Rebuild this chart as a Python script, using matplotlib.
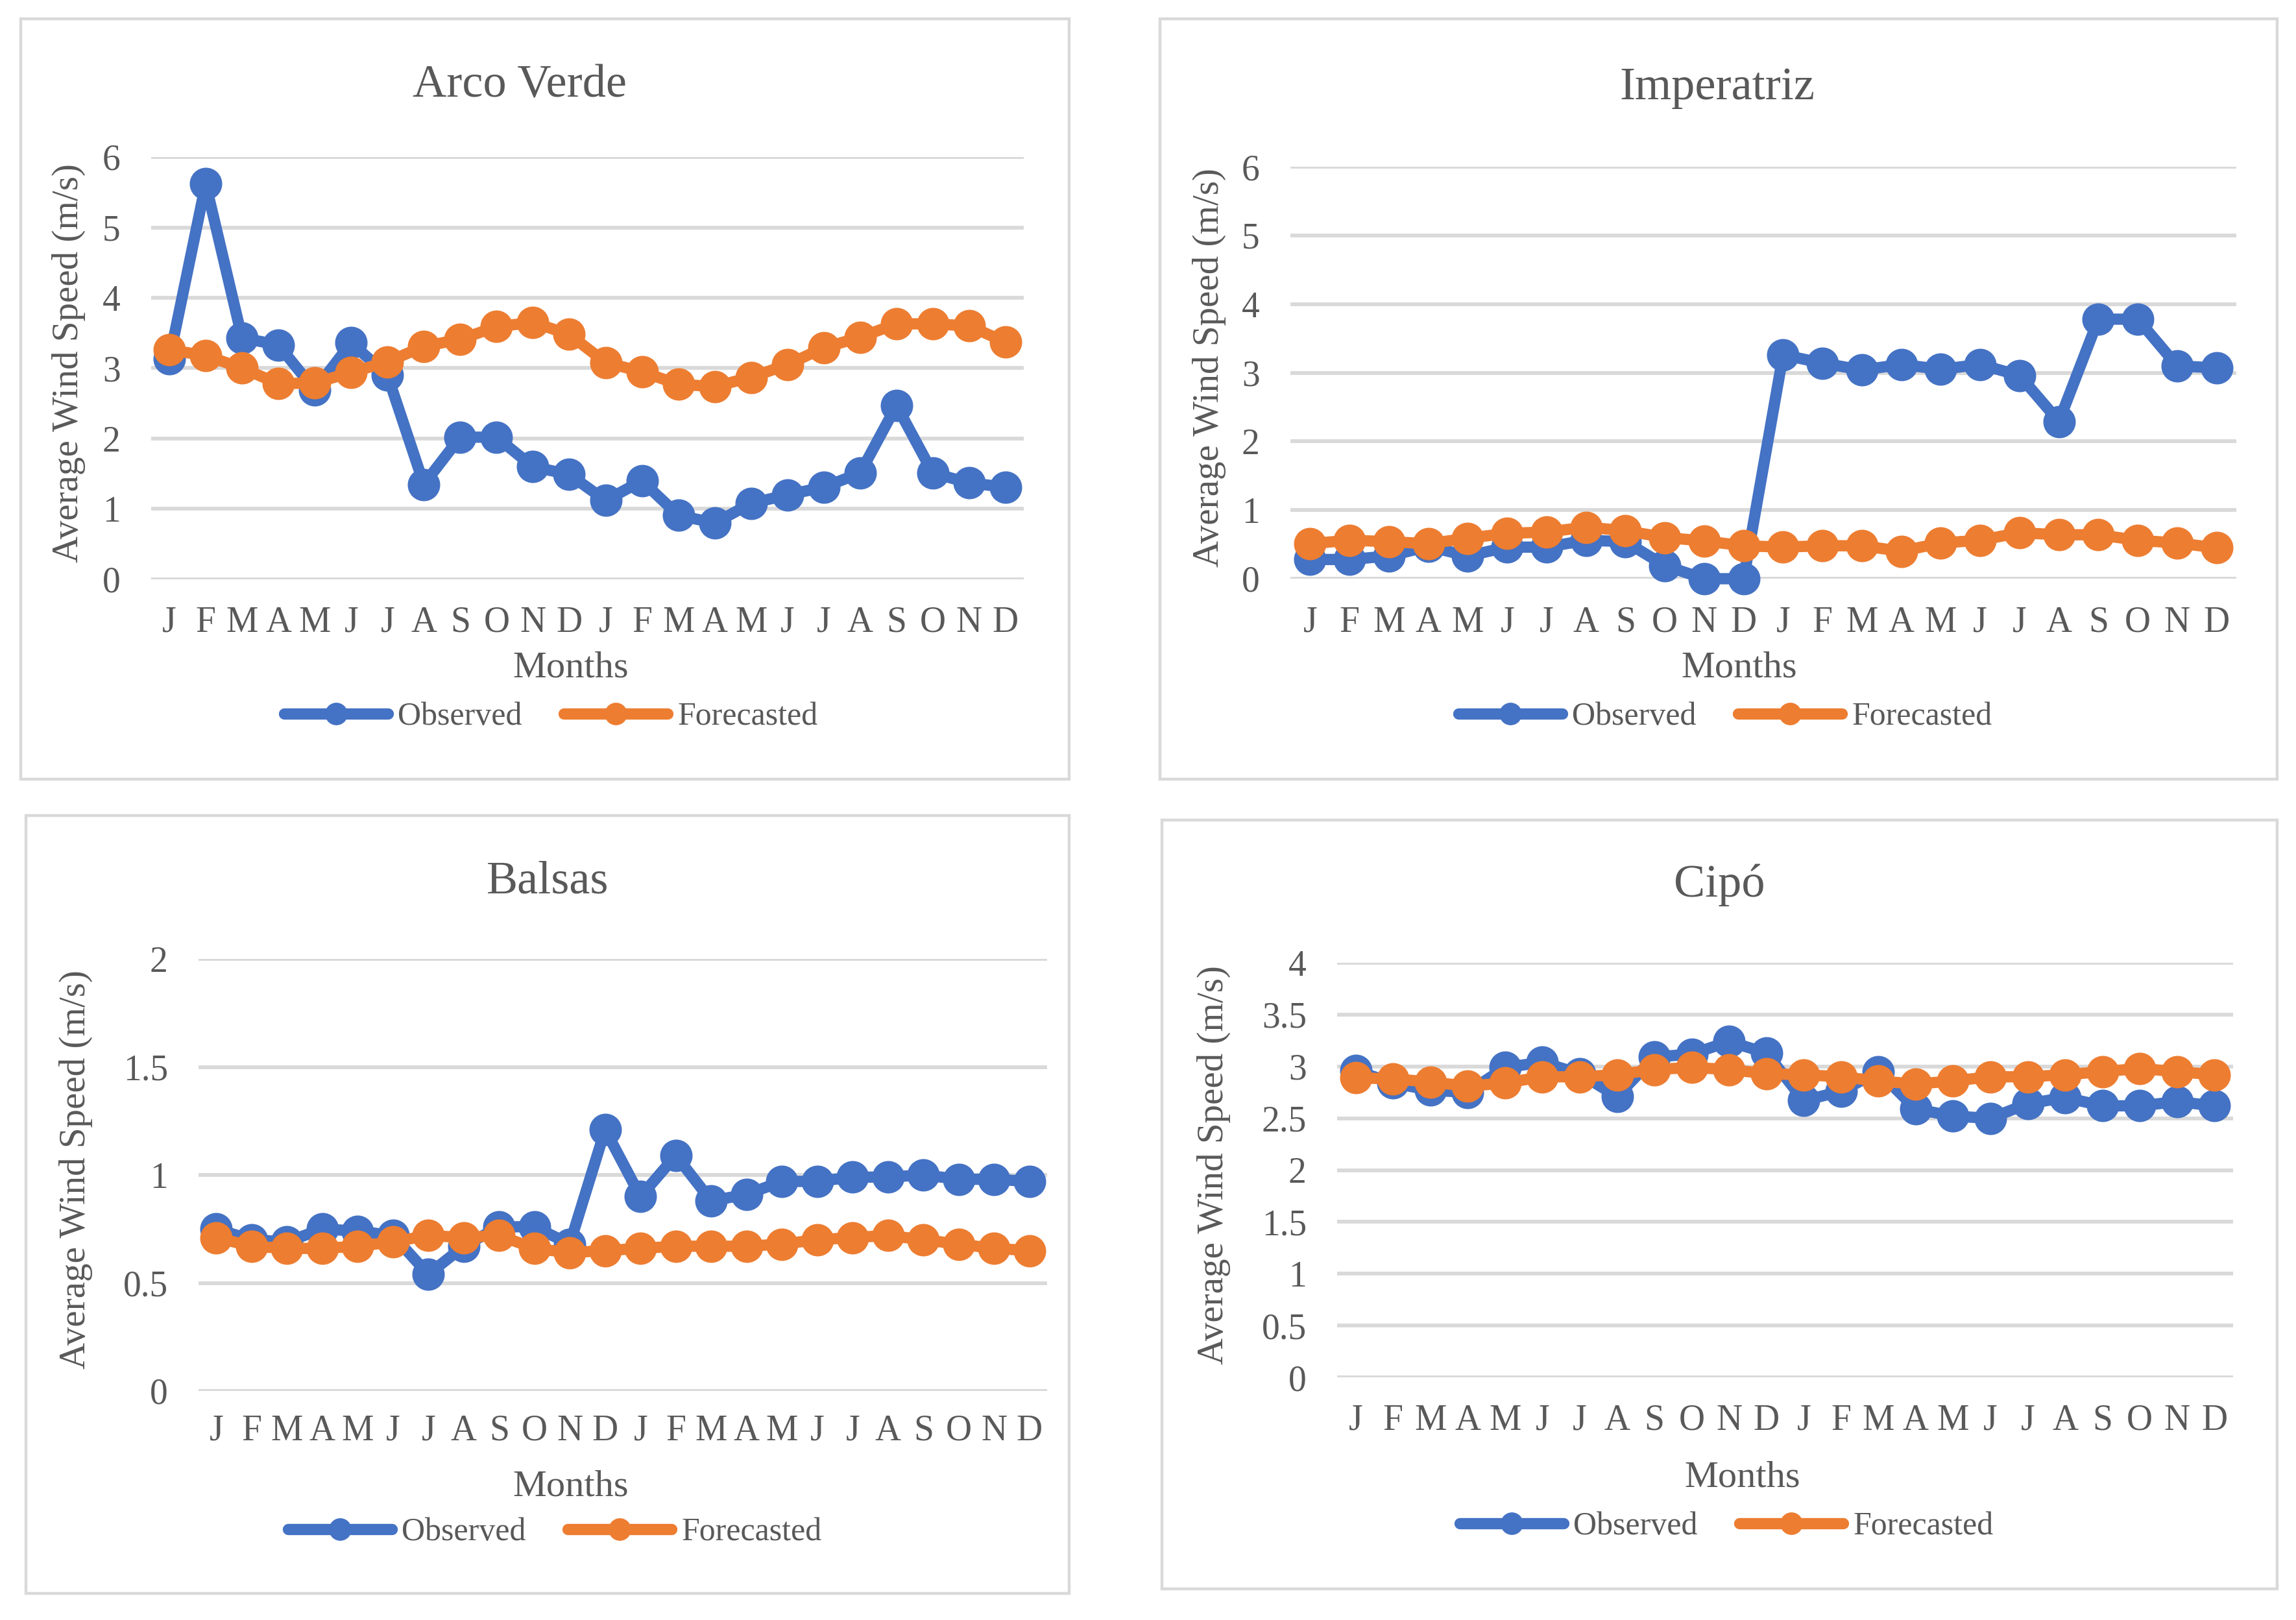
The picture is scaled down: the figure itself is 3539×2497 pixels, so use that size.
import numpy as np
import matplotlib.pyplot as plt
from matplotlib.patches import Rectangle
from matplotlib.lines import Line2D

# ---- data (two years, monthly) ----
months = ["J", "F", "M", "A", "M", "J", "J", "A", "S", "O", "N", "D"] * 2

arco_obs = [3.13, 5.62, 3.43, 3.33, 2.69, 3.36, 2.90, 1.35, 2.02, 2.02, 1.60, 1.49,
            1.12, 1.40, 0.91, 0.80, 1.08, 1.20, 1.31, 1.51, 2.47, 1.51, 1.37, 1.31]
arco_fc = [3.26, 3.18, 3.00, 2.78, 2.79, 2.94, 3.09, 3.31, 3.41, 3.59, 3.65, 3.48,
           3.08, 2.95, 2.77, 2.74, 2.87, 3.05, 3.29, 3.44, 3.63, 3.63, 3.60, 3.37]

imp_obs = [0.28, 0.28, 0.33, 0.47, 0.33, 0.46, 0.46, 0.56, 0.54, 0.19, 0.0, 0.0,
           3.26, 3.14, 3.04, 3.12, 3.05, 3.12, 2.96, 2.29, 3.78, 3.78, 3.10, 3.07]
imp_fc = [0.51, 0.56, 0.54, 0.51, 0.59, 0.66, 0.68, 0.75, 0.70, 0.60, 0.55, 0.48,
          0.46, 0.48, 0.48, 0.40, 0.52, 0.56, 0.67, 0.64, 0.64, 0.56, 0.52, 0.45]

bal_obs = [0.75, 0.70, 0.69, 0.75, 0.74, 0.72, 0.54, 0.67, 0.76, 0.76, 0.68, 1.21,
           0.90, 1.09, 0.88, 0.91, 0.97, 0.97, 0.99, 0.99, 1.00, 0.98, 0.98, 0.97]
bal_fc = [0.71, 0.67, 0.66, 0.66, 0.67, 0.69, 0.72, 0.71, 0.72, 0.66, 0.64, 0.65,
          0.66, 0.67, 0.67, 0.67, 0.68, 0.70, 0.71, 0.72, 0.70, 0.68, 0.66, 0.65]

cipo_obs = [2.96, 2.84, 2.77, 2.75, 2.99, 3.04, 2.93, 2.71, 3.09, 3.12, 3.24, 3.13,
            2.67, 2.76, 2.95, 2.59, 2.52, 2.50, 2.64, 2.70, 2.62, 2.62, 2.66, 2.62]
cipo_fc = [2.89, 2.88, 2.85, 2.81, 2.84, 2.90, 2.90, 2.92, 2.97, 2.99, 2.97, 2.93,
           2.92, 2.90, 2.86, 2.83, 2.86, 2.90, 2.90, 2.92, 2.95, 2.98, 2.95, 2.92]

# ---- styling ----
W, H = 3539, 2497
TXT = "#595959"
BLUE = "#4472C4"
ORANGE = "#ED7D31"
GRID = "#D9D9D9"
LW = 12.5   # line width (pt)
MS = 35     # marker size (pt)
plt.rcParams["font.family"] = ["Liberation Serif", "DejaVu Serif"]

fig = plt.figure(figsize=(W / 100, H / 100), dpi=100)


def fx(x):
    return x / W


def fy(y):
    return 1 - y / H


def panel(title, obs, fc, ymax, ystep, box, area, title_xy, ylab_x, months_xy, leg_xy, tick_y):
    # outer frame of each chart
    bx0, by0, bx1, by1 = box
    fig.patches.append(Rectangle((fx(bx0), fy(by1)), (bx1 - bx0) / W, (by1 - by0) / H,
                                 transform=fig.transFigure, fill=False, ec=GRID, lw=3.2))
    x0, y0, x1, y1 = area
    ax = fig.add_axes([fx(x0), fy(y1), (x1 - x0) / W, (y1 - y0) / H])
    x = np.arange(len(obs))
    ax.plot(x, obs, color=BLUE, lw=LW, marker="o", ms=MS, solid_capstyle="round",
            solid_joinstyle="round", zorder=3, clip_on=False)
    ax.plot(x, fc, color=ORANGE, lw=LW, marker="o", ms=MS, solid_capstyle="round",
            solid_joinstyle="round", zorder=4, clip_on=False)
    ax.set_xlim(-0.5, len(obs) - 0.5)
    ax.set_ylim(0, ymax)
    yt = np.arange(0, ymax + ystep / 2, ystep)
    ax.set_yticks(yt, [f"{v:g}" for v in yt])
    ax.set_xticks(x, months)
    for s in ax.spines.values():
        s.set_visible(False)
    ax.yaxis.grid(True, color=GRID, lw=4.2)
    ax.set_axisbelow(True)
    ax.tick_params(axis="both", length=0, labelsize=40, labelcolor=TXT)
    ax.tick_params(axis="y", pad=34)
    ax.tick_params(axis="x", pad=(tick_y - y1) * 0.72)
    for lbl in ax.get_xticklabels():
        lbl.set_va("center")
    ax.patch.set_alpha(0)

    fig.text(fx(title_xy[0]), fy(title_xy[1]), title, ha="center", va="center",
             fontsize=52, color=TXT)
    fig.text(fx(ylab_x), fy((y0 + y1) / 2 - 8), "Average Wind Speed (m/s)", rotation=90,
             ha="center", va="center", fontsize=41, color=TXT)
    fig.text(fx(months_xy[0]), fy(months_xy[1]), "Months", ha="center", va="center",
             fontsize=42, color=TXT)
    handles = [Line2D([], [], color=BLUE, lw=LW, marker="o", ms=24, solid_capstyle="round"),
               Line2D([], [], color=ORANGE, lw=LW, marker="o", ms=24, solid_capstyle="round")]
    fig.legend(handles, ["Observed", "Forecasted"], loc="center",
               bbox_to_anchor=(fx(leg_xy[0]), fy(leg_xy[1])), ncol=2, frameon=False,
               fontsize=36, labelcolor=TXT, handlelength=3.2, handletextpad=0.3,
               columnspacing=1.3)


panel("Arco Verde", arco_obs, arco_fc, 6, 1,
      box=(32, 29, 1648, 1201), area=(233, 242, 1578, 893),
      title_xy=(801, 132), ylab_x=106, months_xy=(880, 1030), leg_xy=(849, 1105), tick_y=960)

panel("Imperatriz", imp_obs, imp_fc, 6, 1,
      box=(1788, 29, 3510, 1201), area=(1989, 257, 3447, 892),
      title_xy=(2647, 136), ylab_x=1864, months_xy=(2681, 1030), leg_xy=(2659, 1105), tick_y=960)

panel("Balsas", bal_obs, bal_fc, 2, 0.5,
      box=(40, 1257, 1648, 2456), area=(306, 1478, 1614, 2144),
      title_xy=(844, 1359), ylab_x=117, months_xy=(880, 2292), leg_xy=(855, 2362), tick_y=2206)

panel("Cipó", cipo_obs, cipo_fc, 4, 0.5,
      box=(1791, 1264, 3510, 2449), area=(2061, 1484, 3442, 2123),
      title_xy=(2650, 1364), ylab_x=1871, months_xy=(2686, 2278), leg_xy=(2661, 2353), tick_y=2190)

fig.savefig("out.png", dpi=100, facecolor="white")
